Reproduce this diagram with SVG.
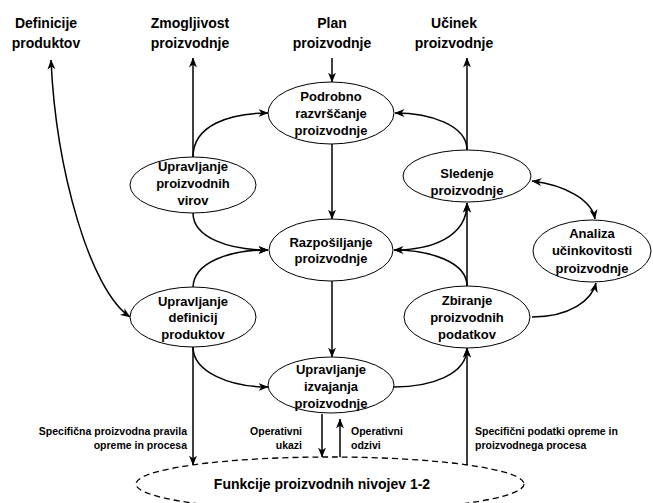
<svg xmlns="http://www.w3.org/2000/svg" width="653" height="503" viewBox="0 0 653 503">
<style>
text{font-family:"Liberation Sans",Arial,sans-serif;font-weight:bold;fill:#000;text-anchor:middle}
.lbl{font-size:14px}
.nd{font-size:13px}
.sm{font-size:10.5px}
.node ellipse{fill:#fff;stroke:#000;stroke-width:1}
.edge{fill:none;stroke:#000;stroke-width:1.5}
</style>
<defs>
<marker id="a" viewBox="0 0 10 10" refX="9.5" refY="5" markerWidth="10" markerHeight="10" markerUnits="userSpaceOnUse" orient="auto-start-reverse">
<path d="M0,1 L10,5 L0,9 L3,5 z" fill="#000"/>
</marker>
</defs>
<rect width="653" height="503" fill="#fff"/>

<g id="connectors">
<path class="edge" d="M332,58 L332,82" marker-end="url(#a)"/>
<path class="edge" d="M193,157 L193,58" marker-end="url(#a)"/>
<path class="edge" d="M193,157 C193,125 230,113 268,113" marker-end="url(#a)"/>
<path class="edge" d="M467,150 L467,58" marker-end="url(#a)"/>
<path class="edge" d="M467,150 C467,125 430,113 395,113" marker-end="url(#a)"/>
<path class="edge" d="M193,213 C193,238 230,250 268,250" marker-end="url(#a)"/>
<path class="edge" d="M193,288 C193,262 230,250 268,250" marker-end="url(#a)"/>
<path class="edge" d="M332,144 L332,219" marker-end="url(#a)"/>
<path class="edge" d="M332,281 L332,357" marker-end="url(#a)"/>
<path class="edge" d="M467,286 C467,262 430,250 394,250" marker-end="url(#a)"/>
<path class="edge" d="M394,250 C430,250 467,238 467,203" marker-end="url(#a)"/>
<path class="edge" d="M467,286 L467,203" marker-end="url(#a)"/>
<path class="edge" d="M532,181 C565,185 592,200 595,219" marker-start="url(#a)" marker-end="url(#a)"/>
<path class="edge" d="M532,317 C570,317 592,300 596,283" marker-end="url(#a)"/>
<path class="edge" d="M394,387 C430,387 467,375 467,348" marker-end="url(#a)"/>
<path class="edge" d="M193,347 C193,372 230,387 268,387" marker-end="url(#a)"/>
<path class="edge" d="M193,347 L193,465" marker-end="url(#a)"/>
<path class="edge" d="M51,60 C56,170 90,290 130,317" marker-start="url(#a)" marker-end="url(#a)"/>
<path class="edge" d="M322,414 L322,457" marker-end="url(#a)"/>
<path class="edge" d="M340,459 L340,419" marker-end="url(#a)"/>
<path class="edge" d="M467,465 L467,348" marker-end="url(#a)"/>
</g>

<g id="lbl-definicije">
<text class="lbl" x="46" y="28">Definicije</text>
<text class="lbl" x="46" y="48">produktov</text>
</g>
<g id="lbl-zmogljivost">
<text class="lbl" x="190" y="28">Zmogljivost</text>
<text class="lbl" x="190" y="48">proizvodnje</text>
</g>
<g id="lbl-plan">
<text class="lbl" x="332" y="28">Plan</text>
<text class="lbl" x="332" y="48">proizvodnje</text>
</g>
<g id="lbl-ucinek">
<text class="lbl" x="454" y="28">Učinek</text>
<text class="lbl" x="454" y="48">proizvodnje</text>
</g>

<g id="n-podrobno" class="node">
<ellipse cx="331" cy="113" rx="63" ry="31"/>
<text class="nd" x="331" y="100.5">Podrobno</text>
<text class="nd" x="331" y="117.5">razvrščanje</text>
<text class="nd" x="331" y="134.5">proizvodnje</text>
</g>
<g id="n-viri" class="node">
<ellipse cx="193" cy="185" rx="63" ry="28"/>
<text class="nd" x="193" y="170.5">Upravljanje</text>
<text class="nd" x="193" y="187.5">proizvodnih</text>
<text class="nd" x="193" y="204.5">virov</text>
</g>
<g id="n-razposiljanje" class="node">
<ellipse cx="331" cy="250" rx="62" ry="31"/>
<text class="nd" x="331" y="246.5">Razpošiljanje</text>
<text class="nd" x="331" y="263">proizvodnje</text>
</g>
<g id="n-definicij" class="node">
<ellipse cx="193" cy="317" rx="63" ry="30"/>
<text class="nd" x="193" y="305.5">Upravljanje</text>
<text class="nd" x="193" y="322">definicij</text>
<text class="nd" x="193" y="338.5">produktov</text>
</g>
<g id="n-sledenje" class="node">
<ellipse cx="467" cy="176" rx="64" ry="26"/>
<text class="nd" x="467" y="178">Sledenje</text>
<text class="nd" x="467" y="195">proizvodnje</text>
</g>
<g id="n-analiza" class="node">
<ellipse cx="592" cy="251" rx="59" ry="31"/>
<text class="nd" x="592" y="237.5">Analiza</text>
<text class="nd" x="592" y="255">učinkovitosti</text>
<text class="nd" x="592" y="272.5">proizvodnje</text>
</g>
<g id="n-zbiranje" class="node">
<ellipse cx="467" cy="317" rx="63" ry="31"/>
<text class="nd" x="467" y="304.5">Zbiranje</text>
<text class="nd" x="467" y="321.5">proizvodnih</text>
<text class="nd" x="467" y="338.5">podatkov</text>
</g>
<g id="n-izvajanje" class="node">
<ellipse cx="331" cy="385" rx="63" ry="28"/>
<text class="nd" x="331" y="373.5">Upravljanje</text>
<text class="nd" x="331" y="390.5">izvajanja</text>
<text class="nd" x="331" y="407.5">proizvodnje</text>
</g>
<g id="n-funkcije">
<ellipse cx="330" cy="484" rx="194" ry="27" fill="#fff" stroke="#000" stroke-width="1.3" stroke-dasharray="6 4"/>
<text class="lbl" x="322" y="489">Funkcije proizvodnih nivojev 1-2</text>
</g>

<g id="edge-labels">
<text class="sm" x="187" y="435" style="text-anchor:end">Specifična proizvodna pravila</text>
<text class="sm" x="187" y="449" style="text-anchor:end">opreme in procesa</text>
<text class="sm" x="302" y="435" style="text-anchor:end">Operativni</text>
<text class="sm" x="302" y="449" style="text-anchor:end">ukazi</text>
<text class="sm" x="351" y="435" style="text-anchor:start">Operativni</text>
<text class="sm" x="351" y="449" style="text-anchor:start">odzivi</text>
<text class="sm" x="475" y="435" style="text-anchor:start">Specifični podatki opreme in</text>
<text class="sm" x="475" y="449" style="text-anchor:start">proizvodnega procesa</text>
</g>
</svg>
